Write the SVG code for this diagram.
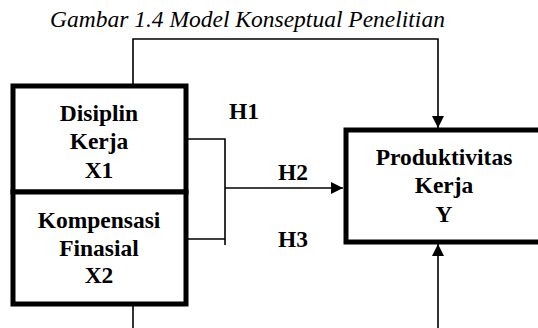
<svg xmlns="http://www.w3.org/2000/svg" width="538" height="328" viewBox="0 0 538 328">
<style>
.t{font-family:"Liberation Serif","Times New Roman",serif;font-weight:bold;font-size:23.5px;fill:#000;text-anchor:middle}
.title{font-family:"Liberation Serif","Times New Roman",serif;font-style:italic;font-size:23.5px;fill:#000}
.box{fill:#fff;stroke:#000;stroke-width:5}
.ln{fill:none;stroke:#000;stroke-width:1.6}
.hl{font-family:"Liberation Serif","Times New Roman",serif;font-weight:bold;font-size:23.5px;fill:#000}
</style>
<defs>
<marker id="ah2" viewBox="0 0 10 10" refX="10" refY="5" markerWidth="12" markerHeight="12" markerUnits="userSpaceOnUse" orient="auto">
<path d="M0,0 L10,5 L0,10 z" fill="#000"/>
</marker>
</defs>
<rect width="538" height="328" fill="#fff"/>
<text class="title" x="50" y="27">Gambar 1.4 Model Konseptual Penelitian</text>
<g id="connectors">
<polyline class="ln" points="133,86 133,39 438,39 438,128" marker-end="url(#ah2)"/>
<line class="ln" x1="133" y1="304" x2="133" y2="328"/>
<polyline class="ln" points="186,139 225,139 225,245"/>
<line class="ln" x1="186" y1="239" x2="225" y2="239"/>
<line class="ln" x1="225" y1="188" x2="343" y2="188" marker-end="url(#ah2)"/>
<line class="ln" x1="438" y1="328" x2="438" y2="244" marker-end="url(#ah2)"/>
</g>
<g id="x1">
<rect class="box" x="13" y="86" width="173" height="106"/>
<text class="t" x="99" y="121">Disiplin</text>
<text class="t" x="99" y="149">Kerja</text>
<text class="t" x="99" y="178">X1</text>
</g>
<g id="x2">
<rect class="box" x="13" y="192" width="173" height="112"/>
<text class="t" x="99" y="228">Kompensasi</text>
<text class="t" x="99" y="256">Finasial</text>
<text class="t" x="99" y="283">X2</text>
</g>
<g id="y">
<rect class="box" x="346" y="130" width="200" height="112"/>
<text class="t" x="444" y="165">Produktivitas</text>
<text class="t" x="444" y="193">Kerja</text>
<text class="t" x="444" y="222">Y</text>
</g>
<g id="labels">
<text class="hl" x="229" y="119">H1</text>
<text class="hl" x="278" y="180">H2</text>
<text class="hl" x="278" y="247">H3</text>
</g>
</svg>
